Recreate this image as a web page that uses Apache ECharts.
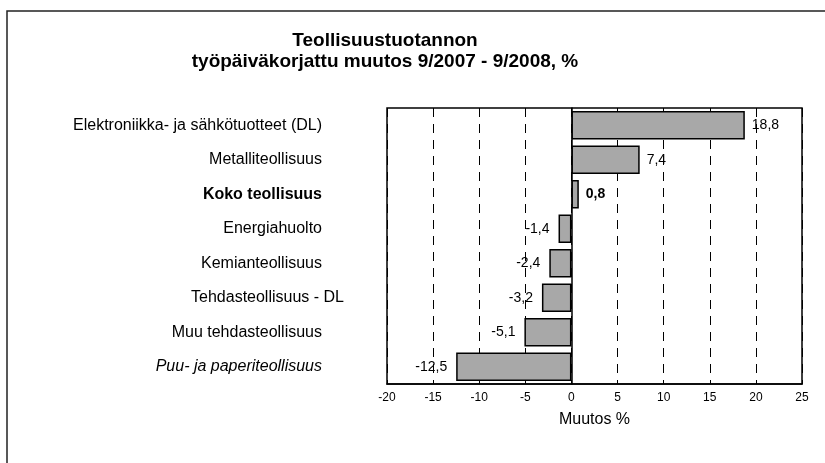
<!DOCTYPE html>
<html>
<head>
<meta charset="utf-8">
<script src="https://cdn.jsdelivr.net/npm/echarts@6/dist/echarts.min.js"></script>
<style>
html, body { margin: 0; padding: 0; background: #fff; }
#chart { width: 825px; height: 463px; }
</style>
</head>
<body>
<div id="chart"></div>
<script>
var categories = [
    'Elektroniikka- ja sähkötuotteet (DL)',
    'Metalliteollisuus',
    'Koko teollisuus',
    'Energiahuolto',
    'Kemianteollisuus',
    'Tehdasteollisuus - DL',
    'Muu tehdasteollisuus',
    'Puu- ja paperiteollisuus'
];
var values = [18.8, 7.4, 0.8, -1.4, -2.4, -3.2, -5.1, -12.5];
var xTicks = [-20, -15, -10, -5, 0, 5, 10, 15, 20, 25];

var font = '"Liberation Sans", Arial, sans-serif';

// label style per category: bold for total, italic for puu, no shift for tehdas
var catStyle = function (name) {
    if (name === 'Koko teollisuus') { return 'b'; }
    if (name === 'Puu- ja paperiteollisuus') { return 'i'; }
    if (name === 'Tehdasteollisuus - DL') { return 'p'; }
    return 'n';
};

var seriesData = [];
for (var i = 0; i < values.length; i++) {
    var bold = categories[i] === 'Koko teollisuus';
    seriesData.push({
        value: values[i],
        label: {
            position: values[i] < 0 ? 'left' : 'right',
            distance: values[i] < 0 ? 9 : 7,
            fontWeight: bold ? 'bold' : 'normal'
        }
    });
}

var chart = echarts.init(document.getElementById('chart'));
var option = {
    animation: false,
    textStyle: { fontFamily: font },
    title: {
        text: 'Teollisuustuotannon\ntyöpäiväkorjattu muutos 9/2007 - 9/2008, %',
        left: 380,
        textAlign: 'center',
        top: 25,
        textStyle: {
            fontFamily: font,
            fontSize: 19,
            fontWeight: 'bold',
            lineHeight: 21,
            color: '#000'
        }
    },
    graphic: [{
        type: 'polyline',
        silent: true,
        shape: { points: [[7, 463], [7, 11], [825, 11]] },
        style: { stroke: '#222', lineWidth: 1.5, fill: null }
    }],
    grid: {
        left: 387,
        right: 23,
        top: 108,
        bottom: 79,
        show: true,
        borderColor: '#000',
        borderWidth: 1.5,
        backgroundColor: 'transparent'
    },
    xAxis: {
        type: 'value',
        min: xTicks[0],
        max: xTicks[xTicks.length - 1],
        interval: 5,
        name: 'Muutos %',
        nameLocation: 'middle',
        nameGap: 28,
        nameTextStyle: { fontFamily: font, fontSize: 16, color: '#000' },
        axisLine: { show: true, lineStyle: { color: '#000', width: 1.5 } },
        axisTick: { show: true, inside: true, length: 3, lineStyle: { color: '#000' } },
        axisLabel: { fontFamily: font, fontSize: 12, color: '#000', margin: 8 },
        splitLine: {
            show: true,
            lineStyle: { color: '#000', type: [9, 7], width: 1 }
        }
    },
    yAxis: {
        type: 'category',
        data: categories,
        inverse: true,
        axisLine: { show: true, onZero: true, lineStyle: { color: '#000', width: 1.5 } },
        axisTick: { show: false },
        axisLabel: {
            margin: 43,
            formatter: function (name) {
                return '{' + catStyle(name) + '|' + name + '}';
            },
            rich: {
                n: { fontFamily: font, fontSize: 16, color: '#000', padding: [0, 22, 0, 0] },
                b: { fontFamily: font, fontSize: 16, color: '#000', fontWeight: 'bold', padding: [0, 22, 0, 0] },
                i: { fontFamily: font, fontSize: 16, color: '#000', fontStyle: 'italic', padding: [0, 22, 0, 0] },
                p: { fontFamily: font, fontSize: 16, color: '#000' }
            }
        },
        splitLine: { show: false }
    },
    series: [{
        type: 'bar',
        data: seriesData,
        barWidth: '82%',
        itemStyle: {
            color: '#a8a8a8',
            borderColor: '#000',
            borderWidth: 1.5
        },
        label: {
            show: true,
            fontFamily: font,
            fontSize: 14,
            color: '#000',
            formatter: function (p) {
                return String(p.value).replace('.', ',');
            }
        }
    }]
};
chart.setOption(option);
</script>
</body>
</html>
